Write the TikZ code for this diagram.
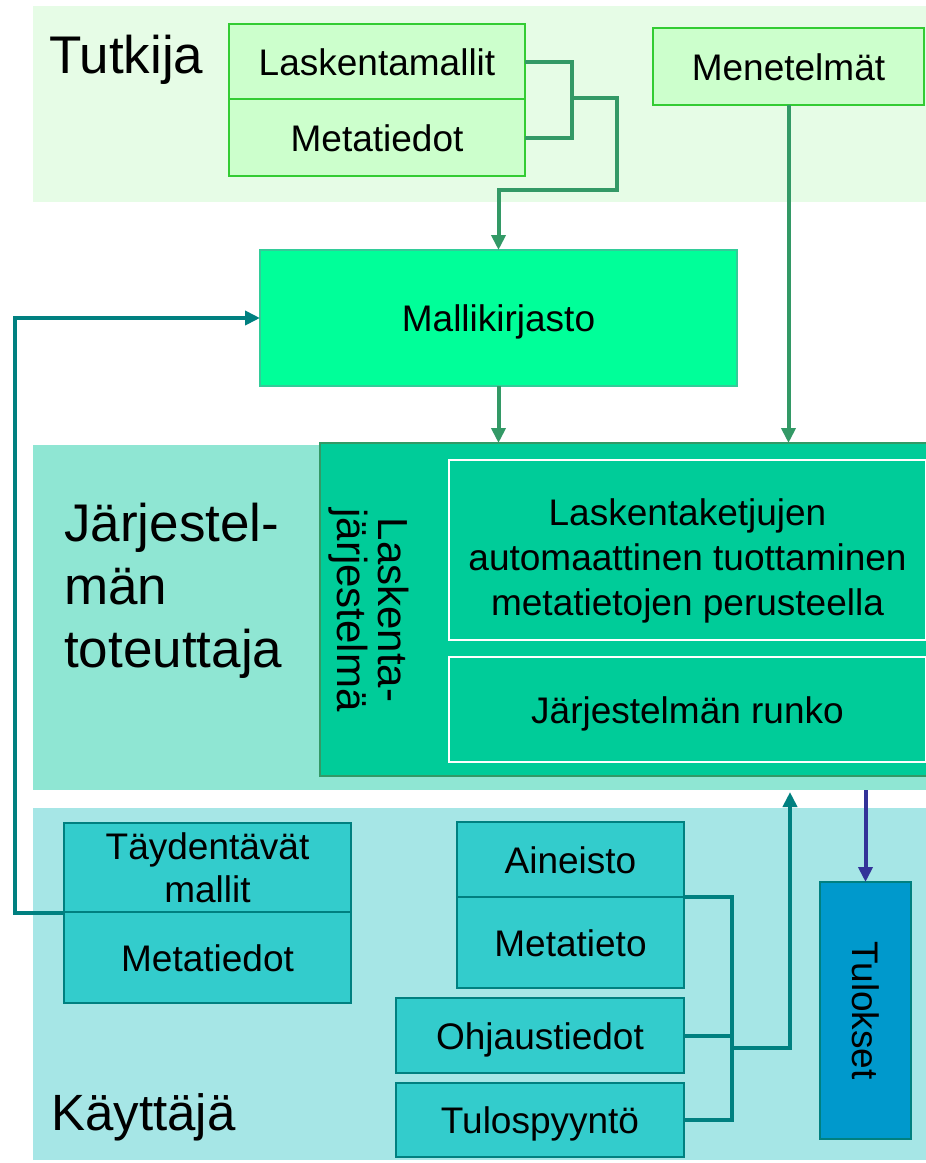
\documentclass[tikz,border=0pt]{standalone}
\usepackage{fontspec}
\setmainfont{Liberation Sans}
\usetikzlibrary{arrows.meta}

\definecolor{tutband}{RGB}{230,252,230}
\definecolor{tutfill}{RGB}{204,255,204}
\definecolor{tutedge}{RGB}{51,204,51}
\definecolor{gconn}{RGB}{51,153,102}
\definecolor{libfill}{RGB}{0,255,153}
\definecolor{libedge}{RGB}{51,204,153}
\definecolor{sysband}{RGB}{143,230,211}
\definecolor{sysfill}{RGB}{0,204,153}
\definecolor{userband}{RGB}{166,230,230}
\definecolor{kfill}{RGB}{51,204,204}
\definecolor{kedge}{RGB}{0,128,128}
\definecolor{tconn}{RGB}{0,128,128}
\definecolor{resfill}{RGB}{0,153,204}
\definecolor{bconn}{RGB}{51,51,153}

\begin{document}
\begin{tikzpicture}[x=1pt,y=-1pt,
  txt/.style={font=\fontsize{37}{43}\selectfont},
  big/.style={font=\fontsize{53}{63}\selectfont, align=left, inner sep=0pt},
  cell/.style={rectangle, inner sep=0pt, outer sep=0pt, align=center, txt},
  one/.style={text height=27pt, text depth=0pt},
  tbox/.style={cell, draw=tutedge, fill=tutfill, line width=2pt},
  kbox/.style={cell, draw=kedge, fill=kfill, line width=2pt},
  gline/.style={draw=gconn, line width=4pt},
  tline/.style={draw=tconn, line width=4pt},
  bline/.style={draw=bconn, line width=4pt},
  tip/.style={-{Triangle[width=14pt,length=15pt]}},
]
\useasboundingbox (0,0) rectangle (926,1163);

% role bands
\fill[tutband] (33,6) rectangle (926,202);
\fill[sysband] (33,445) rectangle (926,790);
\fill[userband] (33,808) rectangle (926,1160);

% researcher
\node[big, anchor=base west] (tutkija) at (49,73) {Tutkija};
\node[tbox, one, minimum width=296pt, minimum height=75pt] (lm) at (377,61.5) {Laskentamallit};
\node[tbox, one, minimum width=296pt, minimum height=77pt] (md) at (377,137.5) {Metatiedot};
\node[tbox, one, minimum width=271pt, minimum height=77pt] (men) at (788.5,66.5) {Menetelmät};

% model library
\node[cell, one, draw=libedge, fill=libfill, line width=2pt, minimum width=477pt, minimum height=136pt] (mk) at (498.5,318) {Mallikirjasto};

% system implementer
\node[big, anchor=north west] (toteuttaja) at (64,503) {Järjestel-\\män\\toteuttaja};
\node[cell, draw=gconn, fill=sysfill, line width=2pt, minimum width=610pt, minimum height=333pt] (ls) at (625,609.5) {};
\node[cell, draw=white, line width=2pt, minimum width=477pt, minimum height=180pt] (lk) at (687.5,550) {};
\node[txt, align=center, inner sep=0pt, font=\fontsize{37}{45}\selectfont] (lkt) at (687.5,561) {Laskentaketjujen\\automaattinen tuottaminen\\metatietojen perusteella};
\node[cell, one, draw=white, line width=2pt, minimum width=477pt, minimum height=105pt] (runko) at (687.5,709.5) {Järjestelmän runko};
\node[rotate=-90, align=center, inner sep=0pt, font=\fontsize{42}{41}\selectfont] (lsl) at (369,610) {Laskenta-\\järjestelmä};

% user
\node[big, anchor=base west, font=\fontsize{51}{61}\selectfont] (kayttaja) at (51,1130) {Käyttäjä};
\node[kbox, minimum width=287pt, minimum height=90pt] (tm) at (207.5,868) {Täydentävät\\mallit};
\node[kbox, one, minimum width=287pt, minimum height=91pt] (md2) at (207.5,957.5) {Metatiedot};
\node[kbox, one, minimum width=227pt, minimum height=75pt] (ai) at (570.5,859.5) {Aineisto};
\node[kbox, one, minimum width=227pt, minimum height=91pt] (mt) at (570.5,942.5) {Metatieto};
\node[kbox, one, minimum width=288pt, minimum height=75pt] (oh) at (540,1035.5) {Ohjaustiedot};
\node[kbox, one, minimum width=288pt, minimum height=74pt] (tp) at (540,1120) {Tulospyyntö};
\node[kbox, fill=resfill, minimum width=91pt, minimum height=257pt] (tul) at (865.5,1010.5) {};
\node[txt, one, rotate=-90, inner sep=0pt] (tull) at (tul.center) {Tulokset};

% researcher connectors
\coordinate (rj) at (570,98);
\draw[gline] (lm.east) -- ++(47,0) |- (md.east);
\draw[gline, tip] (rj) -- (617,98) |- (498.5,190) -- (mk.north);
\draw[gline, tip] (mk.south) -- (mk.south |- ls.north);
\draw[gline, tip] (men.south) -- (men.south |- ls.north);

% user connectors
\draw[tline, tip] (tm.south west) -- ++(-49,0) |- (mk.west);
\coordinate (kj) at (732,1048);
\coordinate (up) at (790,792);
\draw[tline] (mt.north east) -| (kj) |- (tp.east);
\draw[tline] (oh.east) -- (oh.east -| kj);
\draw[tline, tip] (kj) -| (up);
\coordinate (down) at (865.5,790);
\draw[bline, tip] (down) -- (tul.north);
\end{tikzpicture}
\end{document}
